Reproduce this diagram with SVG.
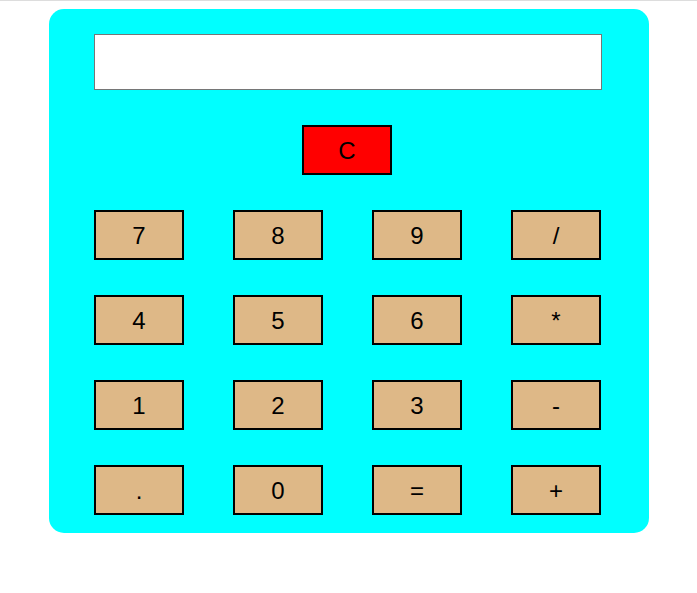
<svg xmlns="http://www.w3.org/2000/svg" width="697" height="593" viewBox="0 0 697 593">
<style>
.btn rect{fill:#DEB887;stroke:#000;stroke-width:2}
.btn text,.clr text{font-family:"Liberation Sans",Arial,sans-serif;font-size:24px;fill:#000;text-anchor:middle}
.clr rect{fill:#FF0000;stroke:#000;stroke-width:2}
</style>
<rect x="0" y="0" width="697" height="593" fill="#fff"/>
<line x1="0" y1="0.5" x2="697" y2="0.5" stroke="#dddddd" stroke-width="1"/>
<g id="panel"><rect x="49" y="9" width="600" height="524" rx="15" ry="15" fill="#00FFFF"/></g>
<g id="display"><rect x="94.5" y="34.5" width="507" height="55" fill="#fff" stroke="#767676" stroke-width="1"/></g>
<g id="btn-C" class="clr"><rect x="303" y="126" width="88" height="48"/><text x="347" y="159">C</text></g>
<g id="btn-7" class="btn"><rect x="95" y="211" width="88" height="48"/><text x="139" y="244">7</text></g>
<g id="btn-8" class="btn"><rect x="234" y="211" width="88" height="48"/><text x="278" y="244">8</text></g>
<g id="btn-9" class="btn"><rect x="373" y="211" width="88" height="48"/><text x="417" y="244">9</text></g>
<g id="btn-div" class="btn"><rect x="512" y="211" width="88" height="48"/><text x="556" y="244">/</text></g>
<g id="btn-4" class="btn"><rect x="95" y="296" width="88" height="48"/><text x="139" y="329">4</text></g>
<g id="btn-5" class="btn"><rect x="234" y="296" width="88" height="48"/><text x="278" y="329">5</text></g>
<g id="btn-6" class="btn"><rect x="373" y="296" width="88" height="48"/><text x="417" y="329">6</text></g>
<g id="btn-mul" class="btn"><rect x="512" y="296" width="88" height="48"/><text x="556" y="329">*</text></g>
<g id="btn-1" class="btn"><rect x="95" y="381" width="88" height="48"/><text x="139" y="414">1</text></g>
<g id="btn-2" class="btn"><rect x="234" y="381" width="88" height="48"/><text x="278" y="414">2</text></g>
<g id="btn-3" class="btn"><rect x="373" y="381" width="88" height="48"/><text x="417" y="414">3</text></g>
<g id="btn-sub" class="btn"><rect x="512" y="381" width="88" height="48"/><text x="556" y="414">-</text></g>
<g id="btn-dot" class="btn"><rect x="95" y="466" width="88" height="48"/><text x="139" y="499">.</text></g>
<g id="btn-0" class="btn"><rect x="234" y="466" width="88" height="48"/><text x="278" y="499">0</text></g>
<g id="btn-eq" class="btn"><rect x="373" y="466" width="88" height="48"/><text x="417" y="499">=</text></g>
<g id="btn-add" class="btn"><rect x="512" y="466" width="88" height="48"/><text x="556" y="499">+</text></g>
<g id="connectors"></g>
</svg>
